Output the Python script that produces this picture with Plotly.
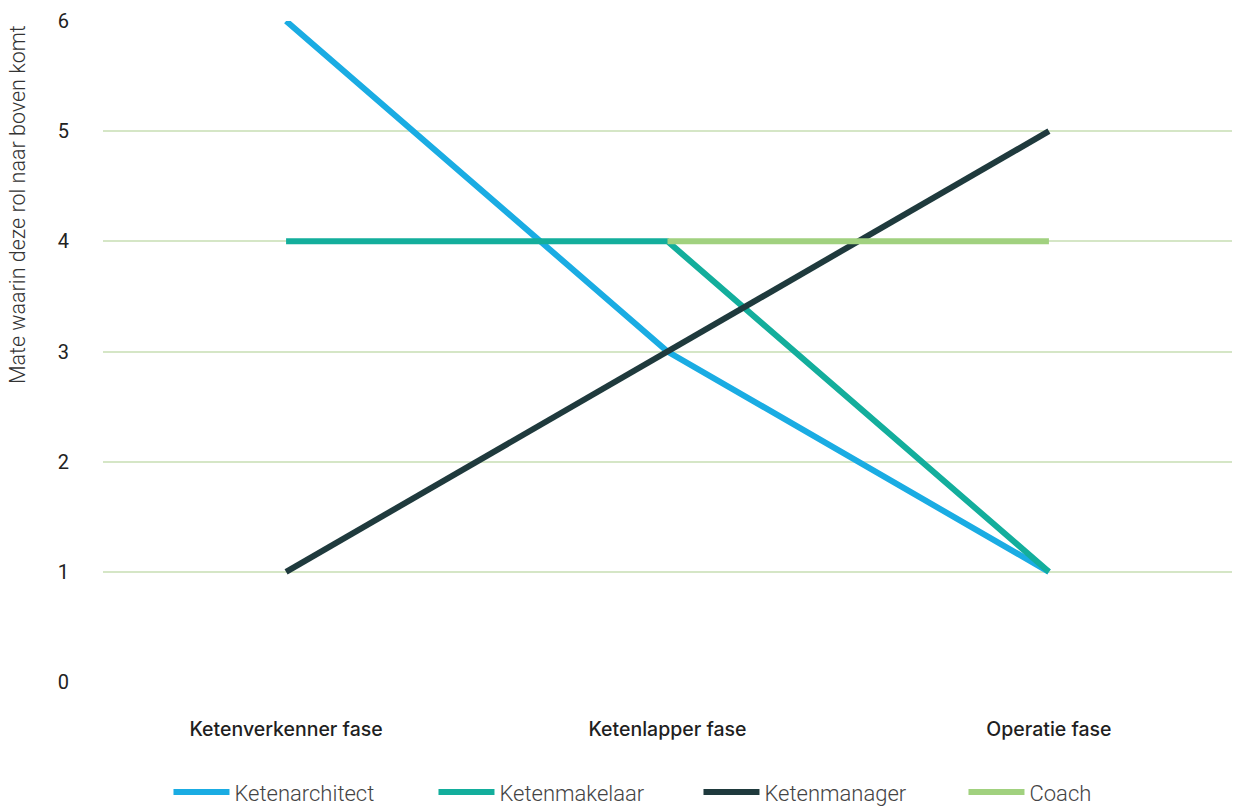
import plotly.graph_objects as go

categories = ["Ketenverkenner fase", "Ketenlapper fase", "Operatie fase"]
ketenarchitect = [6, 3, 1]
ketenmakelaar = [4, 4, 1]
ketenmanager = [1, 3, 5]
coach = [None, 4, 4]
y_title = "Mate waarin deze rol naar boven komt"

series = [
    ("Ketenarchitect", ketenarchitect, "#1aace3"),
    ("Ketenmakelaar", ketenmakelaar, "#13ae9c"),
    ("Ketenmanager", ketenmanager, "#1f3a3d"),
    ("Coach", coach, "#a1d17f"),
]

fig = go.Figure()
for name, vals, color in series:
    fig.add_trace(go.Scatter(
        x=categories, y=vals, name=name, mode="lines",
        line=dict(color=color, width=6), cliponaxis=False,
        connectgaps=False,
    ))

fig.add_annotation(
    text=y_title, textangle=-90, xref="paper", yref="paper",
    x=-0.0762, xanchor="center", y=0.723, yanchor="middle", showarrow=False,
    font=dict(family="Roboto", size=21.5, color="#333333", weight=300),
)

fig.update_layout(
    width=1235, height=807,
    margin=dict(l=103, r=3, t=21, b=125, autoexpand=False),
    plot_bgcolor="white", paper_bgcolor="white",
    font=dict(family="Roboto", size=20, color="#333333"),
    showlegend=True,
    legend=dict(orientation="h", x=0.058, xanchor="left", y=-0.135, yanchor="top",
                font=dict(size=22, color="#444444", weight=300), itemwidth=56,
                entrywidth=194, traceorder="normal"),
    xaxis=dict(
        type="category", range=[-0.48, 2.48], showgrid=False, zeroline=False,
        showline=False, ticks="", ticklabelstandoff=33,
        tickfont=dict(family="Inter", size=19.5, color="#1f1f1f", weight=500),
    ),
    yaxis=dict(
        range=[0, 6], dtick=1, showgrid=True, gridcolor="#d5e6c6", gridwidth=1.5,
        zeroline=False, showline=False, ticks="", ticklabelstandoff=33,
        tickfont=dict(size=20, color="#222222"),
    ),
)

fig.write_html("out.html")
